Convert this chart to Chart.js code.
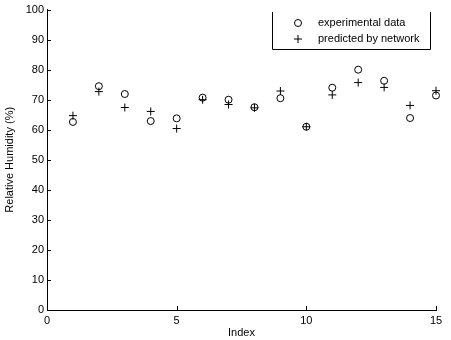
<!DOCTYPE html>
<html><head><meta charset="utf-8">
<script src="https://cdn.jsdelivr.net/npm/chart.js@4"></script>
<style>html,body{margin:0;padding:0;background:#fff}#wrap{width:451px;height:340px}</style>
</head><body><div id="wrap"><canvas id="c" width="451" height="340"></canvas></div>
<script>
const indices = [1,2,3,4,5,6,7,8,9,10,11,12,13,14,15];
const experimental = [62.6,74.5,71.9,62.9,63.8,70.7,70.0,67.5,70.5,61.0,74.0,80.0,76.3,63.9,71.4];
const predicted = [64.7,72.7,67.4,66.1,60.4,70.0,68.4,67.3,72.9,61.0,71.6,75.7,74.1,68.1,73.0];
const xTicks = [0,5,10,15];
const yTicks = [0,10,20,30,40,50,60,70,80,90,100];
const seriesLabels = ['experimental data','predicted by network'];
const xTitle = 'Index';
const yTitle = 'Relative Humidity (%)';

const FONT = {family:'"Liberation Sans", Arial, sans-serif', size:11};

const inwardTicks = {
  id:'inwardTicks',
  afterDraw(chart){
    const {ctx, chartArea:a, scales:{x,y}} = chart;
    ctx.save();
    ctx.strokeStyle='#000'; ctx.lineWidth=1;
    ctx.beginPath();
    y.ticks.forEach(t=>{const p=Math.round(y.getPixelForValue(t.value))+0.5; ctx.moveTo(a.left,p); ctx.lineTo(a.left+4,p);});
    x.ticks.forEach(t=>{const p=Math.round(x.getPixelForValue(t.value))+0.5; ctx.moveTo(p,a.bottom); ctx.lineTo(p,a.bottom-4);});
    ctx.stroke();
    ctx.restore();
  }
};

const boxLegend = {
  id:'boxLegend',
  afterDraw(chart){
    const {ctx, chartArea:a} = chart;
    const L = a.right-164, R = a.right-6, T = 12, B = 49;
    ctx.save();
    ctx.fillStyle='#fff';
    ctx.fillRect(L,T,R-L,B-T);
    ctx.strokeStyle='#000'; ctx.lineWidth=1;
    ctx.beginPath();
    ctx.moveTo(L+0.5,T); ctx.lineTo(L+0.5,B+0.5); ctx.lineTo(R+0.5,B+0.5); ctx.lineTo(R+0.5,T);
    ctx.stroke();
    ctx.font = `${FONT.size}px ${FONT.family}`;
    ctx.fillStyle='#000'; ctx.textBaseline='middle'; ctx.textAlign='left';
    const rows=[23,39];
    chart.data.datasets.forEach((ds,i)=>{
      const yy=rows[i], cx=L+26, r=ds.pointRadius;
      ctx.lineWidth=1; ctx.strokeStyle='#000';
      ctx.beginPath();
      if(ds.pointStyle==='circle'){ctx.arc(cx,yy,r,0,Math.PI*2);}
      else {ctx.moveTo(cx-r,yy);ctx.lineTo(cx+r,yy);ctx.moveTo(cx,yy-r);ctx.lineTo(cx,yy+r);}
      ctx.stroke();
      ctx.fillText(ds.label,L+46,yy);
    });
    ctx.restore();
  }
};

new Chart(document.getElementById('c'),{
  type:'scatter',
  data:{datasets:[
    {label:seriesLabels[0], data:indices.map((v,i)=>({x:v,y:experimental[i]})), clip:false, pointStyle:'circle', pointRadius:3.5, pointBorderWidth:1, borderColor:'#000', backgroundColor:'rgba(0,0,0,0)'},
    {label:seriesLabels[1], data:indices.map((v,i)=>({x:v,y:predicted[i]})), clip:false, pointStyle:'cross', pointRadius:4, pointBorderWidth:1, borderColor:'#000', backgroundColor:'#000'}
  ]},
  options:{
    responsive:false, animation:false, devicePixelRatio:1,
    layout:{padding:{top:5,right:15,left:0,bottom:0}},
    plugins:{legend:{display:false}, tooltip:{enabled:false}},
    scales:{
      x:{type:'linear', min:0, max:15,
        afterFit(s){s.height=30;},
        afterBuildTicks(s){s.ticks=xTicks.map(v=>({value:v}));},
        grid:{drawOnChartArea:false, drawTicks:false},
        border:{display:true,color:'#000',width:1},
        ticks:{padding:4,color:'#000',font:FONT,maxRotation:0},
        title:{display:true,text:xTitle,color:'#000',font:FONT,padding:{top:0,bottom:0}}
      },
      y:{type:'linear', min:0, max:100,
        afterFit(s){s.width=47;},
        afterBuildTicks(s){s.ticks=yTicks.map(v=>({value:v}));},
        grid:{drawOnChartArea:false, drawTicks:false},
        border:{display:true,color:'#000',width:1},
        ticks:{padding:3,color:'#000',font:FONT},
        title:{display:true,text:yTitle,color:'#000',font:FONT,padding:{top:3,bottom:0}}
      }
    }
  },
  plugins:[inwardTicks, boxLegend]
});
</script></body></html>
